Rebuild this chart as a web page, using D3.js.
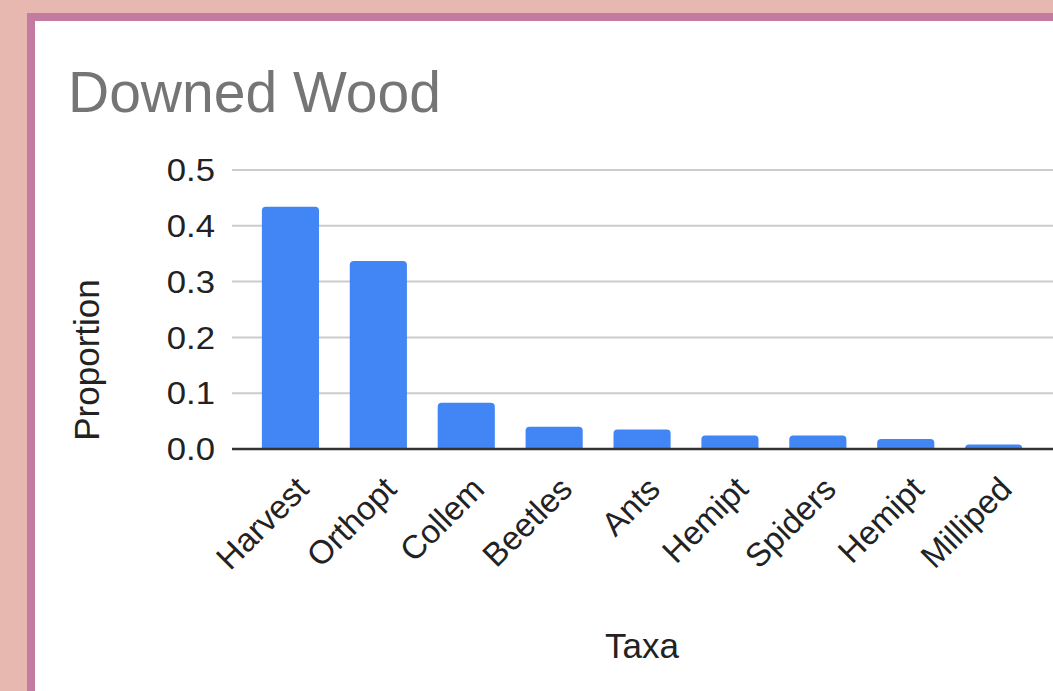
<!DOCTYPE html>
<html>
<head>
<meta charset="utf-8">
<script src="https://cdn.jsdelivr.net/npm/d3@7"></script>
<style>
  html, body { margin: 0; padding: 0; background: #e7b8b0; }
  svg { display: block; }
  text { font-family: "Liberation Sans", Arial, Helvetica, sans-serif; }
</style>
</head>
<body>
<svg id="chart" width="1053" height="691"></svg>
<script>
// Taxa and their share of captures in downed wood
const taxa = ["Harvest", "Orthopt", "Collem", "Beetles", "Ants", "Hemipt", "Spiders", "Hemipt ", "Milliped"];
const proportions = [0.434, 0.337, 0.083, 0.040, 0.035, 0.024, 0.024, 0.018, 0.008];
const yTicks = [0, 0.1, 0.2, 0.3, 0.4, 0.5];

const svg = d3.select("#chart");
const W = 1053, H = 691;

// card frame
svg.append("rect").attr("x", 27).attr("y", 13).attr("width", W - 27).attr("height", H - 13).attr("fill", "#c47ba2");
svg.append("rect").attr("x", 35).attr("y", 21).attr("width", W - 35).attr("height", H - 21).attr("fill", "#ffffff");

const plotLeft = 232, plotRight = W, baseY = 449, topY = 170;

const x = d3.scaleBand()
  .domain(d3.range(taxa.length))
  .range([246.5, 246.5 + 87.9 * taxa.length])
  .paddingInner(0.35)
  .paddingOuter(0.175);

const y = d3.scaleLinear().domain([0, 0.5]).range([baseY, topY]);

// title
svg.append("text")
  .attr("x", 68).attr("y", 112)
  .attr("fill", "#757575")
  .attr("font-size", 57)
  .text("Downed Wood");

// gridlines
svg.append("g").selectAll("line")
  .data(yTicks.filter(d => d > 0))
  .join("line")
  .attr("x1", plotLeft).attr("x2", plotRight)
  .attr("y1", d => y(d)).attr("y2", d => y(d))
  .attr("stroke", "#cccccc").attr("stroke-width", 2);

// y tick labels
svg.append("g").selectAll("text")
  .data(yTicks)
  .join("text")
  .attr("transform", d => `translate(215,${y(d)}) scale(1.12,1)`)
  .attr("dy", "0.36em")
  .attr("text-anchor", "end")
  .attr("fill", "#222")
  .attr("font-size", 31)
  .text(d => d3.format(".1f")(d));

// bars with rounded top corners
const r = 4;
svg.append("g").selectAll("path")
  .data(proportions)
  .join("path")
  .attr("fill", "#4285f4")
  .attr("d", (d, i) => {
    const x0 = x(i), w = x.bandwidth(), y0 = y(d), y1 = y(0);
    const rr = Math.min(r, (y1 - y0));
    return `M${x0},${y1} L${x0},${y0 + rr} Q${x0},${y0} ${x0 + rr},${y0} L${x0 + w - rr},${y0} Q${x0 + w},${y0} ${x0 + w},${y0 + rr} L${x0 + w},${y1} Z`;
  });

// baseline
svg.append("line")
  .attr("x1", plotLeft).attr("x2", plotRight)
  .attr("y1", baseY).attr("y2", baseY)
  .attr("stroke", "#333").attr("stroke-width", 2.5);

// x category labels, rotated
svg.append("g").selectAll("text")
  .data(taxa)
  .join("text")
  .attr("transform", (d, i) => `translate(${x(i) + x.bandwidth() / 2 + 20},${baseY + 42}) rotate(-45)`)
  .attr("text-anchor", "end")
  .attr("fill", "#222")
  .attr("font-size", 33)
  .text(d => d.trim());

// axis titles
svg.append("text")
  .attr("transform", `translate(99,360) rotate(-90)`)
  .attr("text-anchor", "middle")
  .attr("fill", "#222")
  .attr("font-size", 35)
  .text("Proportion");

svg.append("text")
  .attr("x", 642).attr("y", 658)
  .attr("text-anchor", "middle")
  .attr("fill", "#222")
  .attr("font-size", 35)
  .text("Taxa");
</script>
</body>
</html>
